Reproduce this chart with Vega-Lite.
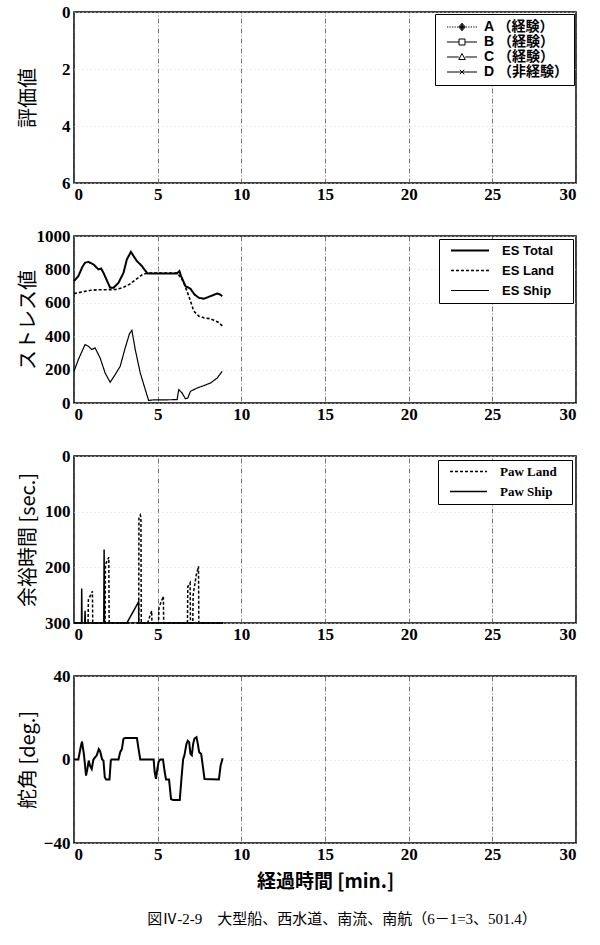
{
  "$schema": "https://vega.github.io/schema/vega-lite/v6.json",
  "padding": {"left": 17, "top": 2, "right": 10, "bottom": 10},
  "background": "white",
  "spacing": 53,
  "bounds": "flush",
  "title": {"text": "図Ⅳ-2-9　大型船、西水道、南流、南航（6－1=3、501.4）", "orient": "bottom", "anchor": "middle", "offset": 20, "font": "Liberation Serif, Noto Sans CJK JP", "fontSize": 15, "fontWeight": "normal", "color": "black", "dx": 45},
  "config": {
    "view": {"stroke": "black", "strokeWidth": 1.5},
    "axis": {"domain": false, "ticks": false, "labelFont": "Liberation Serif", "labelFontSize": 17, "labelFontWeight": "bold", "labelColor": "black", "titleFont": "Noto Sans CJK JP", "titleFontSize": 20, "titleFontWeight": "normal", "titleColor": "black"},
    "axisX": {"grid": true, "gridColor": "#555", "gridDash": [5, 2, 1, 2], "gridWidth": 0.8, "labelPadding": 3},
    "axisY": {"grid": true, "gridColor": "#ddd", "gridDash": [1, 3], "labelPadding": 4, "titleX": -36, "format": "d"},
    "legend": {"title": null, "orient": "top-right", "offset": 3, "strokeColor": "black", "fillColor": "white", "padding": 5, "symbolSize": 100, "symbolStrokeColor": "black", "symbolStrokeWidth": 1, "labelColor": "black"}
  },
  "resolve": {"scale": {"shape": "independent", "strokeDash": "independent", "strokeWidth": "independent"}, "legend": {"shape": "independent", "strokeDash": "independent", "strokeWidth": "independent"}},
  "vconcat": [
    {
      "width": 502, "height": 171,
      "data": {"values": [{"t": null, "v": null, "s1": "A （経験）"}, {"t": null, "v": null, "s1": "B （経験）"}, {"t": null, "v": null, "s1": "C （経験）"}, {"t": null, "v": null, "s1": "D （非経験）"}]},
      "mark": {"type": "point", "color": "black", "filled": false, "strokeWidth": 1, "size": 100, "opacity": 1},
      "encoding": {
        "x": {"field": "t", "type": "quantitative", "scale": {"domain": [0, 30], "nice": false}, "axis": {"values": [0, 5, 10, 15, 20, 25, 30], "title": null}},
        "y": {"field": "v", "type": "quantitative", "scale": {"domain": [0, 6], "reverse": true, "nice": false}, "axis": {"values": [0, 2, 4, 6], "title": "評価値"}},
        "shape": {"field": "s1", "type": "nominal", "scale": {"domain": ["A （経験）", "B （経験）", "C （経験）", "D （非経験）"], "range": [
          "M-3,0H-2.75M-2.5,0H-2.25M-2,0H-1.75M-1.5,0H-1.25M-1,0H-0.8M0.8,0H1M1.25,0H1.5M1.75,0H2M2.25,0H2.5M2.75,0H3M0,-0.75L0.65,0L0,0.75L-0.65,0ZM0,-0.5L0.43,0L0,0.5L-0.43,0ZM0,-0.25L0.2,0L0,0.25L-0.2,0ZM-0.6,0H0.6M0,-0.7V0.7",
          "M-3,0H-0.6M0.6,0H3M-0.6,-0.6H0.6V0.6H-0.6Z",
          "M-3,0H-0.65M0.65,0H3M0,-0.7L0.65,0.5H-0.65Z",
          "M-3,0H3M-0.45,-0.45L0.45,0.45M-0.45,0.45L0.45,-0.45"
        ]}, "legend": {"labelFont": "Liberation Sans, Noto Sans CJK JP", "labelFontSize": 14, "labelFontWeight": "bold", "rowPadding": 1, "padding": 6, "offset": 2, "symbolOffset": 14, "labelOffset": 15, "symbolStrokeColor": "black", "symbolStrokeWidth": 1}}
      }
    },
    {
      "width": 502, "height": 167,
      "data": {"values": [
        {"t": 0, "v": 730, "s2": "ES Total"}, {"t": 0.26, "v": 760, "s2": "ES Total"}, {"t": 0.5, "v": 815, "s2": "ES Total"}, {"t": 0.66, "v": 840, "s2": "ES Total"}, {"t": 0.86, "v": 845, "s2": "ES Total"}, {"t": 1.16, "v": 830, "s2": "ES Total"}, {"t": 1.46, "v": 800, "s2": "ES Total"}, {"t": 1.62, "v": 805, "s2": "ES Total"}, {"t": 1.76, "v": 780, "s2": "ES Total"}, {"t": 1.96, "v": 735, "s2": "ES Total"}, {"t": 2.16, "v": 690, "s2": "ES Total"}, {"t": 2.36, "v": 690, "s2": "ES Total"}, {"t": 2.66, "v": 720, "s2": "ES Total"}, {"t": 2.96, "v": 780, "s2": "ES Total"}, {"t": 3.16, "v": 860, "s2": "ES Total"}, {"t": 3.4, "v": 905, "s2": "ES Total"}, {"t": 3.56, "v": 880, "s2": "ES Total"}, {"t": 3.76, "v": 850, "s2": "ES Total"}, {"t": 4.06, "v": 820, "s2": "ES Total"}, {"t": 4.2, "v": 800, "s2": "ES Total"}, {"t": 4.4, "v": 776, "s2": "ES Total"}, {"t": 5.0, "v": 776, "s2": "ES Total"}, {"t": 6.16, "v": 776, "s2": "ES Total"}, {"t": 6.3, "v": 790, "s2": "ES Total"}, {"t": 6.4, "v": 760, "s2": "ES Total"}, {"t": 6.66, "v": 700, "s2": "ES Total"}, {"t": 6.96, "v": 684, "s2": "ES Total"}, {"t": 7.2, "v": 650, "s2": "ES Total"}, {"t": 7.46, "v": 630, "s2": "ES Total"}, {"t": 7.76, "v": 624, "s2": "ES Total"}, {"t": 8.16, "v": 640, "s2": "ES Total"}, {"t": 8.56, "v": 656, "s2": "ES Total"}, {"t": 8.72, "v": 650, "s2": "ES Total"}, {"t": 8.86, "v": 640, "s2": "ES Total"},
        {"t": 0, "v": 655, "s2": "ES Land"}, {"t": 0.5, "v": 665, "s2": "ES Land"}, {"t": 1.0, "v": 675, "s2": "ES Land"}, {"t": 1.5, "v": 678, "s2": "ES Land"}, {"t": 2.0, "v": 678, "s2": "ES Land"}, {"t": 2.5, "v": 680, "s2": "ES Land"}, {"t": 2.9, "v": 690, "s2": "ES Land"}, {"t": 3.3, "v": 710, "s2": "ES Land"}, {"t": 3.7, "v": 740, "s2": "ES Land"}, {"t": 4.1, "v": 770, "s2": "ES Land"}, {"t": 4.4, "v": 778, "s2": "ES Land"}, {"t": 5.0, "v": 778, "s2": "ES Land"}, {"t": 6.16, "v": 778, "s2": "ES Land"}, {"t": 6.4, "v": 750, "s2": "ES Land"}, {"t": 6.56, "v": 720, "s2": "ES Land"}, {"t": 6.86, "v": 640, "s2": "ES Land"}, {"t": 7.16, "v": 550, "s2": "ES Land"}, {"t": 7.46, "v": 520, "s2": "ES Land"}, {"t": 7.76, "v": 510, "s2": "ES Land"}, {"t": 8.1, "v": 505, "s2": "ES Land"}, {"t": 8.36, "v": 496, "s2": "ES Land"}, {"t": 8.6, "v": 485, "s2": "ES Land"}, {"t": 8.86, "v": 462, "s2": "ES Land"},
        {"t": 0, "v": 190, "s2": "ES Ship"}, {"t": 0.26, "v": 260, "s2": "ES Ship"}, {"t": 0.66, "v": 350, "s2": "ES Ship"}, {"t": 0.86, "v": 340, "s2": "ES Ship"}, {"t": 1.06, "v": 320, "s2": "ES Ship"}, {"t": 1.26, "v": 330, "s2": "ES Ship"}, {"t": 1.56, "v": 270, "s2": "ES Ship"}, {"t": 1.86, "v": 180, "s2": "ES Ship"}, {"t": 2.16, "v": 124, "s2": "ES Ship"}, {"t": 2.46, "v": 170, "s2": "ES Ship"}, {"t": 2.76, "v": 220, "s2": "ES Ship"}, {"t": 3.06, "v": 330, "s2": "ES Ship"}, {"t": 3.32, "v": 416, "s2": "ES Ship"}, {"t": 3.46, "v": 435, "s2": "ES Ship"}, {"t": 3.66, "v": 320, "s2": "ES Ship"}, {"t": 3.96, "v": 180, "s2": "ES Ship"}, {"t": 4.2, "v": 100, "s2": "ES Ship"}, {"t": 4.46, "v": 15, "s2": "ES Ship"}, {"t": 4.66, "v": 18, "s2": "ES Ship"}, {"t": 6.16, "v": 20, "s2": "ES Ship"}, {"t": 6.26, "v": 80, "s2": "ES Ship"}, {"t": 6.46, "v": 60, "s2": "ES Ship"}, {"t": 6.66, "v": 25, "s2": "ES Ship"}, {"t": 6.8, "v": 30, "s2": "ES Ship"}, {"t": 6.96, "v": 70, "s2": "ES Ship"}, {"t": 7.36, "v": 90, "s2": "ES Ship"}, {"t": 7.76, "v": 104, "s2": "ES Ship"}, {"t": 8.16, "v": 120, "s2": "ES Ship"}, {"t": 8.56, "v": 150, "s2": "ES Ship"}, {"t": 8.86, "v": 190, "s2": "ES Ship"}
      ]},
      "mark": {"type": "line", "color": "black"},
      "encoding": {
        "x": {"field": "t", "type": "quantitative", "scale": {"domain": [0, 30], "nice": false}, "axis": {"values": [0, 5, 10, 15, 20, 25, 30], "title": null}},
        "y": {"field": "v", "type": "quantitative", "scale": {"domain": [0, 1000], "nice": false}, "axis": {"values": [0, 200, 400, 600, 800, 1000], "title": "ストレス値"}},
        "strokeDash": {"field": "s2", "type": "nominal", "scale": {"domain": ["ES Total", "ES Land", "ES Ship"], "range": [[1, 0], [3, 2], [1, 0]]}, "legend": {"symbolType": "M-3.8,0H3.8", "labelFont": "Liberation Sans, DejaVu Sans", "labelFontSize": 13, "labelFontWeight": "bold", "rowPadding": 6, "symbolOffset": 19.5, "labelOffset": 25.5, "labelExpr": "datum.label + '\u00a0\u2800'"}},
        "strokeWidth": {"field": "s2", "type": "nominal", "scale": {"domain": ["ES Total", "ES Land", "ES Ship"], "range": [2, 1.2, 1]}, "legend": {"symbolType": "M-3.8,0H3.8", "labelFont": "Liberation Sans, DejaVu Sans", "labelFontSize": 13, "labelFontWeight": "bold", "rowPadding": 6, "symbolOffset": 19.5, "labelOffset": 25.5, "labelExpr": "datum.label + '\u00a0\u2800'"}}
      }
    },
    {
      "width": 502, "height": 167,
      "data": {"values": [
        {"t": 0, "v": 300, "s3": "Paw Land"}, {"t": 0.84, "v": 300, "s3": "Paw Land"}, {"t": 0.86, "v": 258, "s3": "Paw Land"}, {"t": 1.1, "v": 243, "s3": "Paw Land"}, {"t": 1.12, "v": 300, "s3": "Paw Land"}, {"t": 1.86, "v": 300, "s3": "Paw Land"}, {"t": 1.88, "v": 195, "s3": "Paw Land"}, {"t": 2.08, "v": 182, "s3": "Paw Land"}, {"t": 2.1, "v": 300, "s3": "Paw Land"}, {"t": 3.87, "v": 300, "s3": "Paw Land"}, {"t": 3.88, "v": 112, "s3": "Paw Land"}, {"t": 3.96, "v": 106, "s3": "Paw Land"}, {"t": 4.0, "v": 110, "s3": "Paw Land"}, {"t": 4.02, "v": 300, "s3": "Paw Land"}, {"t": 4.4, "v": 300, "s3": "Paw Land"}, {"t": 4.64, "v": 278, "s3": "Paw Land"}, {"t": 4.66, "v": 300, "s3": "Paw Land"}, {"t": 5.05, "v": 300, "s3": "Paw Land"}, {"t": 5.08, "v": 272, "s3": "Paw Land"}, {"t": 5.34, "v": 252, "s3": "Paw Land"}, {"t": 5.36, "v": 300, "s3": "Paw Land"}, {"t": 6.78, "v": 300, "s3": "Paw Land"}, {"t": 6.8, "v": 235, "s3": "Paw Land"}, {"t": 6.94, "v": 228, "s3": "Paw Land"}, {"t": 6.96, "v": 300, "s3": "Paw Land"}, {"t": 7.1, "v": 300, "s3": "Paw Land"}, {"t": 7.12, "v": 250, "s3": "Paw Land"}, {"t": 7.3, "v": 215, "s3": "Paw Land"}, {"t": 7.44, "v": 198, "s3": "Paw Land"}, {"t": 7.46, "v": 300, "s3": "Paw Land"}, {"t": 8.9, "v": 300, "s3": "Paw Land"},
        {"t": 0, "v": 300, "s3": "Paw Ship"}, {"t": 0.45, "v": 300, "s3": "Paw Ship"}, {"t": 0.46, "v": 238, "s3": "Paw Ship"}, {"t": 0.48, "v": 300, "s3": "Paw Ship"}, {"t": 0.64, "v": 300, "s3": "Paw Ship"}, {"t": 0.66, "v": 278, "s3": "Paw Ship"}, {"t": 0.68, "v": 300, "s3": "Paw Ship"}, {"t": 1.78, "v": 300, "s3": "Paw Ship"}, {"t": 1.8, "v": 168, "s3": "Paw Ship"}, {"t": 1.82, "v": 300, "s3": "Paw Ship"}, {"t": 3.16, "v": 300, "s3": "Paw Ship"}, {"t": 3.86, "v": 262, "s3": "Paw Ship"}, {"t": 3.87, "v": 300, "s3": "Paw Ship"}, {"t": 8.9, "v": 300, "s3": "Paw Ship"}
      ]},
      "mark": {"type": "line", "color": "black"},
      "encoding": {
        "x": {"field": "t", "type": "quantitative", "scale": {"domain": [0, 30], "nice": false}, "axis": {"values": [0, 5, 10, 15, 20, 25, 30], "title": null}},
        "y": {"field": "v", "type": "quantitative", "scale": {"domain": [0, 300], "reverse": true, "nice": false}, "axis": {"values": [0, 100, 200, 300], "title": "余裕時間 [sec.]"}},
        "strokeDash": {"field": "s3", "type": "nominal", "scale": {"domain": ["Paw Land", "Paw Ship"], "range": [[3, 2], [1, 0]]}, "legend": {"symbolType": "M-3.7,0H3.7", "labelFont": "Liberation Serif, DejaVu Sans", "labelFontSize": 13, "labelFontWeight": "bold", "rowPadding": 6, "offset": 4, "symbolOffset": 19, "labelOffset": 25, "labelExpr": "datum.label + '\u2800'"}},
        "strokeWidth": {"field": "s3", "type": "nominal", "scale": {"domain": ["Paw Land", "Paw Ship"], "range": [1.5, 1.5]}, "legend": {"symbolType": "M-3.7,0H3.7", "labelFont": "Liberation Serif, DejaVu Sans", "labelFontSize": 13, "labelFontWeight": "bold", "rowPadding": 6, "offset": 4, "symbolOffset": 19, "labelOffset": 25, "labelExpr": "datum.label + '\u2800'"}}
      }
    },
    {
      "width": 502, "height": 167,
      "data": {"values": [
        {"t": 0, "v": 0}, {"t": 0.26, "v": 0}, {"t": 0.4, "v": 6}, {"t": 0.48, "v": 8.6}, {"t": 0.6, "v": 2}, {"t": 0.72, "v": -7.7}, {"t": 0.8, "v": -4.5}, {"t": 0.88, "v": -0.5}, {"t": 0.96, "v": -3}, {"t": 1.06, "v": -4.5}, {"t": 1.16, "v": 0}, {"t": 1.36, "v": 2}, {"t": 1.48, "v": 5}, {"t": 1.56, "v": 4}, {"t": 1.68, "v": 0}, {"t": 1.76, "v": -0.5}, {"t": 1.84, "v": -8.5}, {"t": 1.92, "v": -9.6}, {"t": 2.12, "v": -9.6}, {"t": 2.2, "v": -0.5}, {"t": 2.24, "v": 0}, {"t": 2.66, "v": 0}, {"t": 2.76, "v": 3.5}, {"t": 2.86, "v": 5}, {"t": 2.96, "v": 10}, {"t": 3.06, "v": 10.3}, {"t": 3.76, "v": 10.3}, {"t": 3.86, "v": 5}, {"t": 3.96, "v": 0}, {"t": 4.76, "v": 0}, {"t": 4.82, "v": -6}, {"t": 4.9, "v": -9.3}, {"t": 4.98, "v": -4.5}, {"t": 5.06, "v": -1}, {"t": 5.16, "v": 0}, {"t": 5.32, "v": 0}, {"t": 5.42, "v": -6}, {"t": 5.5, "v": -9.6}, {"t": 5.68, "v": -9.6}, {"t": 5.8, "v": -19}, {"t": 5.92, "v": -19.4}, {"t": 6.32, "v": -19.4}, {"t": 6.42, "v": -9.3}, {"t": 6.52, "v": 0}, {"t": 6.6, "v": 2}, {"t": 6.72, "v": 7.5}, {"t": 6.8, "v": 9}, {"t": 6.88, "v": 8.3}, {"t": 6.96, "v": 2.7}, {"t": 7.04, "v": 2}, {"t": 7.12, "v": 7.5}, {"t": 7.2, "v": 10}, {"t": 7.32, "v": 10.7}, {"t": 7.4, "v": 7.5}, {"t": 7.48, "v": 3.5}, {"t": 7.6, "v": 2.7}, {"t": 7.72, "v": -4.5}, {"t": 7.8, "v": -9.3}, {"t": 8.66, "v": -9.6}, {"t": 8.76, "v": -3}, {"t": 8.88, "v": 0.6}
      ]},
      "mark": {"type": "line", "color": "black", "strokeWidth": 2},
      "encoding": {
        "x": {"field": "t", "type": "quantitative", "scale": {"domain": [0, 30], "nice": false}, "axis": {"values": [0, 5, 10, 15, 20, 25, 30], "title": "経過時間 [min.]", "titleFontWeight": "bold", "titleFontSize": 19, "titlePadding": 10}},
        "y": {"field": "v", "type": "quantitative", "scale": {"domain": [-40, 40], "nice": false}, "axis": {"values": [-40, 0, 40], "title": "舵角 [deg.]"}}
      }
    }
  ]
}
